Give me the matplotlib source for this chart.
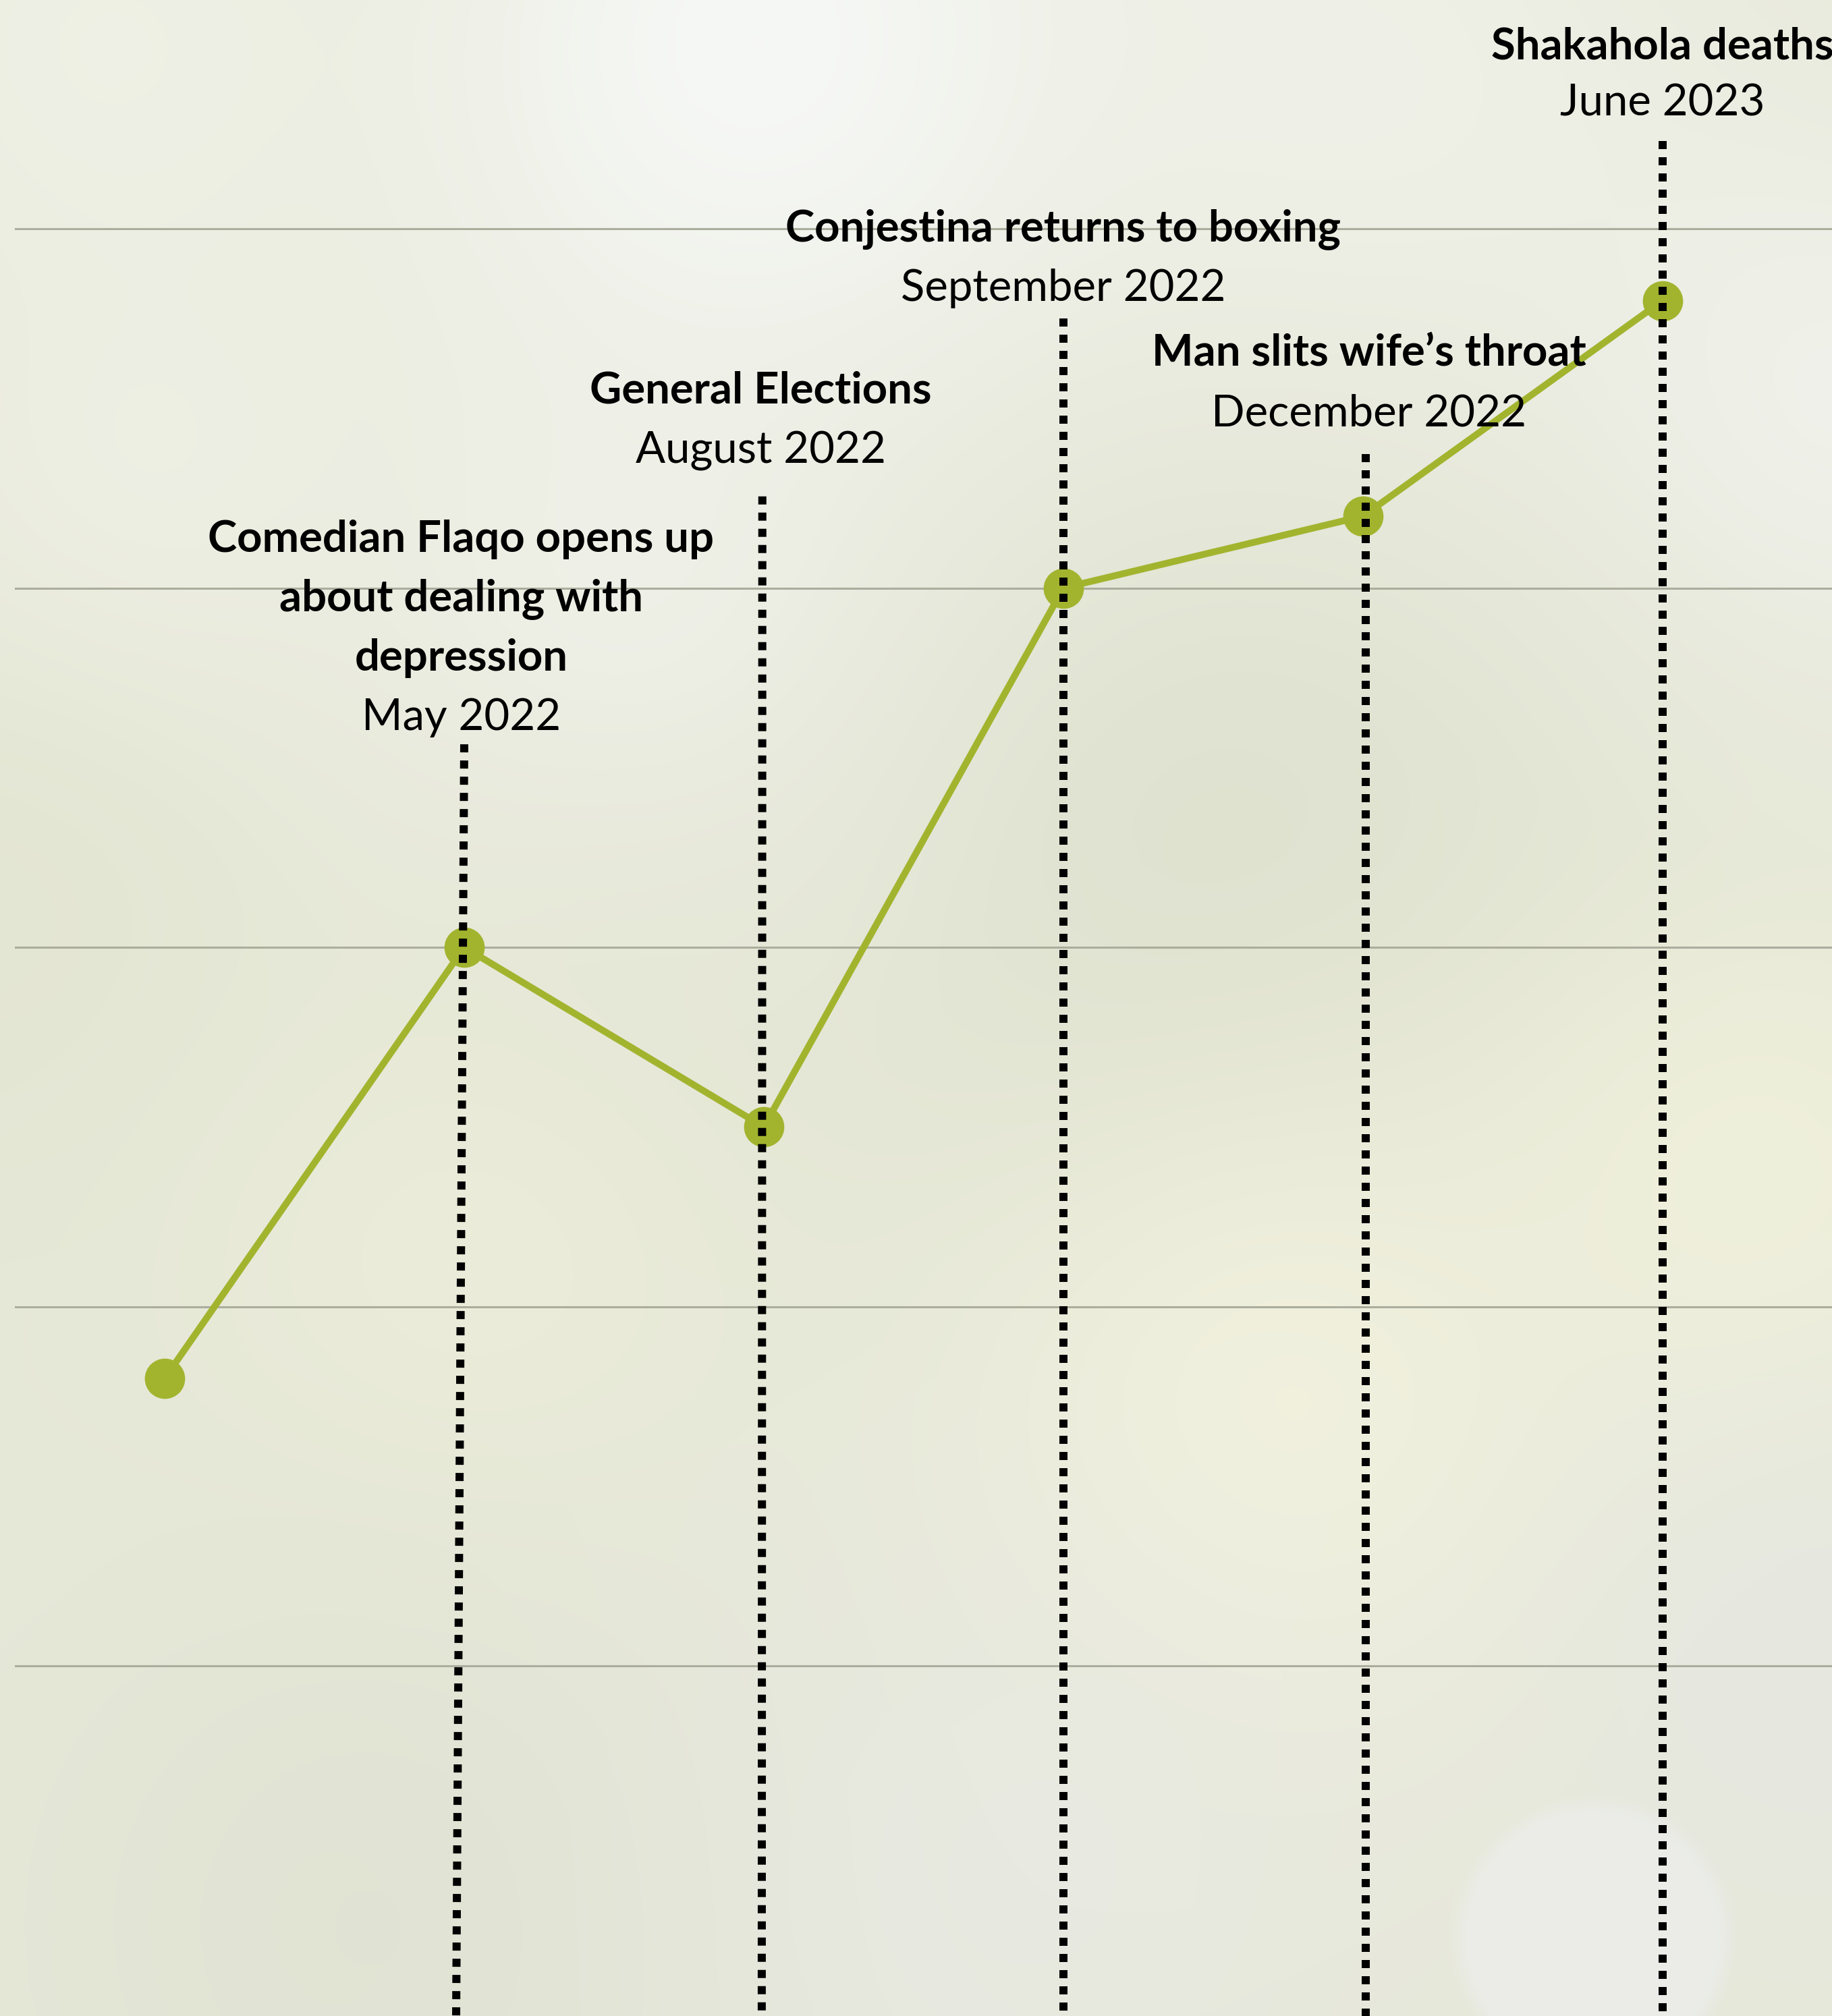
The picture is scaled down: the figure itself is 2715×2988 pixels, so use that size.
import numpy as np
import matplotlib
matplotlib.use("Agg")
import matplotlib.pyplot as plt
from matplotlib import transforms
from matplotlib.colors import to_rgb

plt.rcParams["font.family"] = ["Lato", "DejaVu Sans"]

# ---- data -------------------------------------------------------------
values = [36, 60, 50, 80, 84, 96]
events = [
    None,
    "Comedian Flaqo opens up\nabout dealing with\ndepression",
    "General Elections",
    "Conjestina returns to boxing",
    "Man slits wife\u2019s throat",
    "Shakahola deaths",
]
dates = [None, "May 2022", "August 2022", "September 2022", "December 2022", "June 2023"]
grid_values = [20, 40, 60, 80, 100]

# ---- layout -----------------------------------------------------------
W, H, DPI = 2715, 2988, 100
fig = plt.figure(figsize=(W / DPI, H / DPI), dpi=DPI)

# soft bokeh-like backdrop
bh, bw = 598, 543
yy, xx = np.mgrid[0:bh, 0:bw]
xx = (xx + 0.5) * W / bw
yy = (yy + 0.5) * H / bh
img = np.ones((bh, bw, 3)) * np.array(to_rgb("#E6E8D8"))
blobs = [
    (1150, 80, 380, "#F8FAFA", 0.95),
    (150, 60, 350, "#F1F2E8", 0.8),
    (2000, 150, 450, "#F1F2EA", 0.8),
    (2715, 600, 300, "#F2F3EE", 0.8),
    (200, 720, 250, "#F2F3EA", 0.6),
    (1000, 950, 350, "#F3F4EE", 0.8),
    (1800, 1300, 450, "#DCDFCC", 0.7),
    (0, 1350, 300, "#E2E5D0", 0.6),
    (900, 1500, 300, "#E2E4D2", 0.5),
    (1900, 2100, 350, "#F4F3DF", 0.8),
    (2600, 1750, 280, "#F3F3DC", 0.7),
    (700, 1900, 300, "#EFEFDA", 0.6),
    (600, 2850, 400, "#DDE0D0", 0.6),
    (1500, 2800, 400, "#E9EAE6", 0.6),
    (2700, 2500, 300, "#E6E8E6", 0.6),
]
for cx, cy, s, c, a in blobs:
    w = a * np.exp(-((xx - cx) ** 2 + (yy - cy) ** 2) / (2 * s ** 2))
    img = img * (1 - w[..., None]) + np.array(to_rgb(c)) * w[..., None]
d = np.hypot(xx - 2362, yy - 2874)
w = 0.55 * np.clip((215 - d) / 30, 0, 1)
img = img * (1 - w[..., None]) + np.array(to_rgb("#EFF0F2")) * w[..., None]

bg = fig.add_axes([0, 0, 1, 1], zorder=-10)
bg.imshow(img, extent=[0, 1, 0, 1], aspect="auto", interpolation="bicubic")
bg.set_axis_off()

ax = fig.add_axes([0, 0, 1, 1])
ax.set_facecolor("none")
ax.set_axis_off()

x = np.arange(len(values))
x0_px, dx_px = 244, 444
ax.set_xlim(-x0_px / dx_px, (W - x0_px) / dx_px)
px_per_unit = 532.5 / 20
ax.set_ylim(20 - (H - 2469) / px_per_unit, 100 + 339 / px_per_unit)

for g in grid_values:
    ax.axhline(g, xmin=23 / W, xmax=1, color="#ABAD9D", lw=2.2, zorder=1)

green = "#A2B42E"
ax.plot(x, values, color=green, lw=7.2, solid_capstyle="round", zorder=2)
ax.plot(x, values, "o", color=green, ms=43, mec="none", zorder=3)

# dotted guides from each event label down to the bottom
guide_tops = [None, 71.3, 85.1, 95.0, 87.45, 104.9]
guide_x_top = [None, 1.0, 1.995, 3.0, 4.01, 5.0]
guide_x_bot = [None, 0.973, 1.993, 3.0, 4.01, 5.0]
ymin = ax.get_ylim()[0]
for xt, xb, top in zip(guide_x_top, guide_x_bot, guide_tops):
    if top is None:
        continue
    ax.plot([xt, xb], [top, ymin], color="black", lw=8.64,
            linestyle=(0, (1.0, 1.0)), dash_capstyle="butt", zorder=4)

# event annotations
trans = transforms.blended_transform_factory(ax.transData, fig.transFigure)
title_base = [None, 818, 598, 358, 541, 87]
date_base = [None, 1082, 687, 446, 632, 172]
label_x = [None, 0.99, 1.99, 3.0, 4.02, 5.0]
line_gap = 88
fs = 47
for i in range(len(values)):
    if events[i] is None:
        continue
    lines = events[i].split("\n")
    for k, ln in enumerate(lines):
        ax.text(label_x[i], 1 - (title_base[i] + k * line_gap) / H, ln,
                transform=trans, ha="center", va="baseline",
                fontsize=fs, fontweight="bold", color="black", zorder=5)
    ax.text(label_x[i], 1 - date_base[i] / H, dates[i],
            transform=trans, ha="center", va="baseline",
            fontsize=fs, color="black", zorder=5)

fig.savefig("out.png", dpi=DPI)
